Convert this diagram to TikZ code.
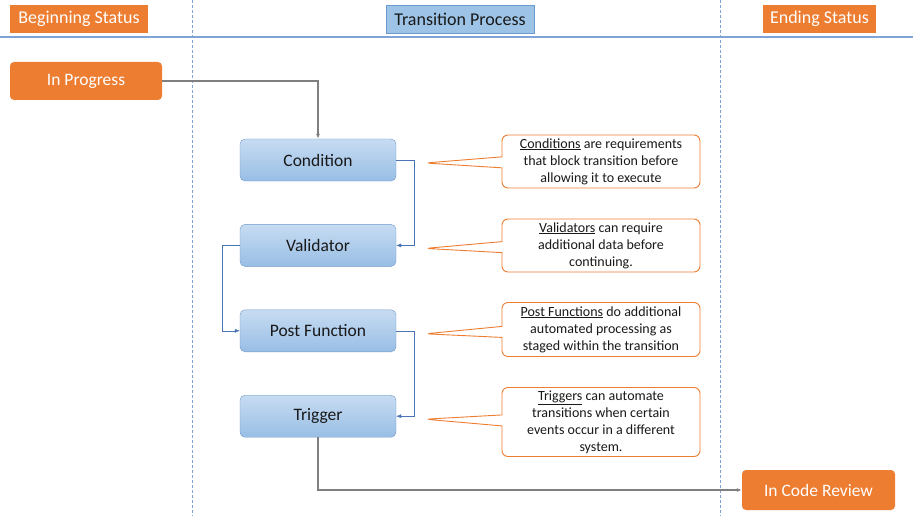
\documentclass[tikz,border=0pt]{standalone}
\usepackage{fontspec}
\setmainfont{Carlito}
\usetikzlibrary{arrows.meta,positioning,shapes.callouts}
\definecolor{statusorange}{HTML}{ED7D31}
\definecolor{headblue}{HTML}{9DC3E6}
\definecolor{headedge}{HTML}{6A9BCF}
\definecolor{stagetop}{HTML}{C7DCF2}
\definecolor{stagebot}{HTML}{98BEE5}
\definecolor{stageedge}{HTML}{6F98C9}
\definecolor{flowblue}{HTML}{4A74B5}
\definecolor{flowgrey}{HTML}{7F7F7F}
\definecolor{laneblue}{HTML}{7FA3D6}

\begin{document}
\begin{tikzpicture}[
  x=1pt, y=1pt, node distance=43pt,
  status/.style={fill=statusorange, text=white, minimum height=28pt,
                 inner sep=0pt, font=\fontsize{18}{20}\selectfont},
  phase/.style={status, fill=headblue, draw=headedge, text=black!90},
  state/.style={fill=statusorange, text=white, rounded corners=4pt,
                inner sep=0pt, font=\fontsize{17.5}{20}\selectfont},
  stage/.style={top color=stagetop, bottom color=stagebot, draw=stageedge,
                rounded corners=5pt, minimum width=156pt, minimum height=42pt,
                inner sep=0pt, text=black!90, font=\fontsize{17.5}{20}\selectfont},
  note/.style={rectangle callout, draw=statusorange, fill=white, rounded corners=6pt,
               line width=0.9pt, minimum width=198pt, align=center, inner sep=1pt,
               callout pointer width=11pt, text=black!90,
               font=\fontsize{14}{17}\selectfont},
  flow/.style={-{Latex[length=5pt,width=4pt]}, draw=flowblue, thin},
  feed/.style={-{Latex[length=5pt,width=4pt]}, draw=flowgrey, line width=1.4pt},
  lane/.style={draw=laneblue, dash pattern=on 3pt off 2pt, thin}]
\useasboundingbox (0,0) rectangle (913,-516);
% swim lanes
\draw[lane] (192,0) -- (192,-516);
\draw[lane] (720,0) -- (720,-516);
\draw[draw=laneblue, line width=1.3pt] (0,-37) -- (913,-37);
% column heads
\node[status, minimum width=138pt] (begin) at (79,-19) {Beginning Status};
\node[phase, minimum width=148pt] (trans) at (460,-19) {Transition Process};
\node[status, minimum width=113pt] (end) at (819.5,-19) {Ending Status};
% states
\node[state, minimum width=152pt, minimum height=38pt] (prog) at (86,-81) {In Progress};
\node[state, minimum width=153pt, minimum height=40pt] (review) at (818.5,-490) {In Code Review};
% transition steps
\node[stage] (cond) at (318,-160) {Condition};
\node[stage, below=of cond] (val) {Validator};
\node[stage, below=of val] (post) {Post Function};
\node[stage, below=of post] (trig) {Trigger};
\draw[feed] (prog.east) -| (cond.north);
\draw[flow] (cond.east) -- ++(18,0) |- (val.east);
\draw[flow] (val.west) -- ++(-18,0) |- (post.west);
\draw[flow] (post.east) -- ++(18,0) |- (trig.east);
\draw[feed] (trig.south) |- (review.west);
% notes
\node[note, minimum height=53pt, callout absolute pointer={([xshift=29pt,yshift=-3pt]cond.east)}]
  (ncond) at (601,-161.5)
  {\underline{Conditions} are requirements\\that block transition before\\allowing it to execute};
\node[note, minimum height=53pt, callout absolute pointer={([xshift=29pt,yshift=-3pt]val.east)}]
  (nval) at (601,-245.5)
  {\underline{Validators} can require\\additional data before\\continuing.};
\node[note, minimum height=54pt, callout absolute pointer={([xshift=29pt,yshift=-3pt]post.east)}]
  (npost) at (601,-329.5)
  {\underline{Post Functions} do additional\\automated processing as\\staged within the transition};
\node[note, minimum height=69pt, callout absolute pointer={([xshift=29pt,yshift=-3pt]trig.east)}]
  (ntrig) at (601,-422)
  {\underline{Triggers} can automate\\transitions when certain\\events occur in a different\\system.};
\end{tikzpicture}
\end{document}
